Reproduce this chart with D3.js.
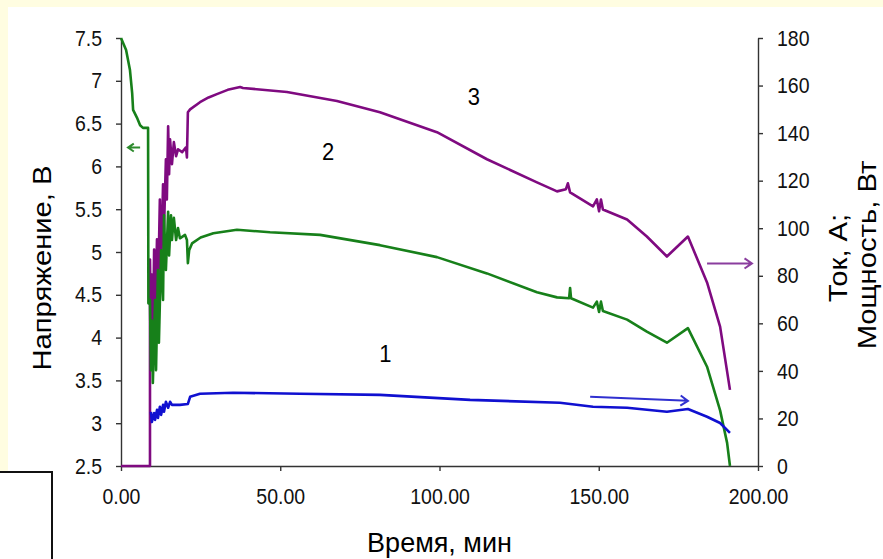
<!DOCTYPE html>
<html>
<head>
<meta charset="utf-8">
<title>Напряжение, ток, мощность</title>
<script src="https://d3js.org/d3.v7.min.js"></script>
<style>
  body { margin: 0; background: #fffde1; }
  svg { display: block; font-family: Arial, 'Liberation Sans', sans-serif; }
  .axis path, .axis line { stroke: #333; stroke-width: 1.4; }
  .axis text { font-size: 19.5px; fill: #111; }
</style>
</head>
<body>
<script>
// curve 2: voltage, V (left axis) — [time, value]
const voltage = [
  [0, 7.5], [0.9, 7.42], [1.6, 7.36], [2.8, 7.13], [3.5, 6.86], [3.8, 6.66], [5.0, 6.57],
  [6.0, 6.48], [6.9, 6.45], [8.5, 6.45], [8.6, 4.4], [9.1, 4.44], [9.4, 3.62], [9.7, 4.2],
  [10.0, 3.47], [10.7, 4.44], [11.0, 3.62], [11.6, 4.79], [11.9, 3.94], [12.6, 5.02],
  [13.2, 4.44], [13.5, 5.43], [14.1, 4.79], [14.8, 5.47], [15.1, 4.96], [15.7, 5.43],
  [16.0, 5.14], [16.6, 5.4], [17.3, 5.14], [17.9, 5.28], [18.5, 5.16], [20.1, 5.2],
  [20.7, 5.14], [21.0, 4.87], [21.4, 5.02], [22.3, 5.1], [25.0, 5.17], [29.0, 5.22],
  [36.4, 5.26], [46.8, 5.23], [62.5, 5.2], [81.3, 5.08], [99.2, 4.94], [114.9, 4.75],
  [130.6, 4.53], [136.9, 4.47], [140.7, 4.46], [141.0, 4.58], [141.3, 4.46], [148.2, 4.35],
  [149.4, 4.42], [150.1, 4.3], [150.7, 4.42], [151.3, 4.31], [158.9, 4.21], [165.1, 4.07],
  [171.4, 3.94], [178.0, 4.11], [184.0, 3.66], [188.1, 3.15], [190.3, 2.77], [191.2, 2.5]
]

// curve 3: power, W (right axis)
const power = [
  [0, 0], [9.1, 0], [9.1, 86.8], [9.4, 57.3], [9.7, 80.5], [10.0, 51], [10.4, 91],
  [10.7, 57.3], [11.3, 95.3], [11.6, 70], [12.2, 112.1], [12.6, 82.6], [13.2, 118.5],
  [13.5, 99.5], [14.1, 129], [14.4, 112.1], [14.8, 142.9], [15.1, 122.7], [15.4, 137.4],
  [16.0, 126.9], [16.6, 136.2], [17.3, 130.3], [17.9, 133.2], [19.2, 132], [20.4, 134],
  [20.7, 129.8], [21.0, 148.8], [21.7, 150], [24.8, 153], [27.5, 155], [30.1, 156.4],
  [33.5, 158.2], [37.4, 159.4], [38.3, 159], [52.1, 157.3], [67.8, 153.5], [81.3, 148.8],
  [99.2, 140.4], [114.9, 129], [130.6, 119.3], [136.9, 115.5], [139.7, 116.4],
  [140.3, 118.9], [141.0, 115.1], [148.2, 109.2], [149.4, 112.1], [150.1, 107.1],
  [150.7, 112.1], [151.3, 107.9], [158.9, 103.7], [165.1, 96.5], [171.4, 88.1],
  [178.0, 96.5], [184.0, 77.2], [188.1, 58.6], [191.2, 32]
]

// curve 1: current, A (right axis)
const current = [
  [9.4, 22.8], [9.7, 18.5], [10.4, 22.3], [10.7, 19.4], [11.3, 23.6], [11.6, 20.2],
  [12.2, 24.9], [12.6, 21.5], [13.2, 25.7], [13.5, 22.8], [14.1, 27], [14.8, 24.5],
  [15.4, 27], [16.0, 25.7], [18.5, 25.7], [21.0, 26.1], [21.7, 29.1], [24.8, 30.4],
  [35.2, 30.8], [56.2, 30.4], [81.3, 29.9], [109.6, 27.8], [137.8, 26.6], [148.2, 24.9],
  [158.9, 24.5], [171.4, 22.8], [178.0, 24], [184.0, 20.7], [188.1, 18.1], [191.2, 13.9]
]

const xTicks = [0, 50, 100, 150, 200]
const leftTicks = [2.5, 3, 3.5, 4, 4.5, 5, 5.5, 6, 6.5, 7, 7.5]
const rightTicks = [0, 20, 40, 60, 80, 100, 120, 140, 160, 180]

// curve numbers and the arrows showing which axis each curve uses
const curveNotes = [
  { text: '3', t: 110.8, v: 155.5, axis: 'right' },
  { text: '2', t: 65.0, v: 6.18, axis: 'left' },
  { text: '1', t: 83.0, v: 47.6, axis: 'right' }
]
const arrows = [
  { from: [6.0, 6.22], to: [2.2, 6.22], axis: 'left', color: '#2e8b2e', head: 7 },
  { from: [184.0, 85.2], to: [198.1, 85.2], axis: 'right', color: '#8a3d9e', head: 9 },
  { from: [147.3, 29.1], to: [178.0, 27.4], axis: 'right', color: '#3030d0', head: 9 }
]

const W = 883, H = 559
const margin = { top: 38, right: 125, bottom: 93, left: 121 }
const stretch = 1.15   // the picture's lettering is a bit taller than plain Arial

const svg = d3.select('body').append('svg')
  .attr('width', W).attr('height', H)

svg.append('rect').attr('width', W).attr('height', H).attr('fill', '#fffde1')
svg.append('rect').attr('x', 8).attr('y', 7).attr('width', W - 8).attr('height', H - 7)
  .attr('fill', '#ffffff')

const x = d3.scaleLinear().domain([0, 200]).range([margin.left, W - margin.right])
const yL = d3.scaleLinear().domain([2.5, 7.5]).range([H - margin.bottom, margin.top])
const yR = d3.scaleLinear().domain([0, 180]).range([H - margin.bottom, margin.top])
const yOf = a => a === 'left' ? yL : yR

// axes
const gx = svg.append('g').attr('class', 'axis')
  .attr('transform', `translate(0, ${H - margin.bottom})`)
  .call(d3.axisBottom(x).tickValues(xTicks).tickFormat(d3.format('.2f'))
    .tickSize(5).tickSizeOuter(0).tickPadding(14))
gx.selectAll('text')
  .attr('y', 22 / stretch)
  .attr('transform', `scale(1, ${stretch})`)

svg.append('g').attr('class', 'axis')
  .attr('transform', `translate(${margin.left}, 0)`)
  .call(d3.axisLeft(yL).tickValues(leftTicks).tickFormat(d => String(d))
    .tickSize(5).tickSizeOuter(0).tickPadding(14))
  .selectAll('text').attr('transform', `scale(1, ${stretch})`)

svg.append('g').attr('class', 'axis')
  .attr('transform', `translate(${W - margin.right}, 0)`)
  .call(d3.axisRight(yR).tickValues(rightTicks).tickFormat(d => String(d))
    .tickSize(5).tickSizeOuter(0).tickPadding(14))
  .selectAll('text').attr('transform', `scale(1, ${stretch})`)

// curves
const lineL = d3.line().x(d => x(d[0])).y(d => yL(d[1]))
const lineR = d3.line().x(d => x(d[0])).y(d => yR(d[1]))

const drawCurve = (data, gen, color) => {
  svg.append('path').datum(data)
    .attr('d', gen)
    .attr('fill', 'none')
    .attr('stroke', color)
    .attr('stroke-width', 2.6)
    .attr('stroke-linejoin', 'round')
}
drawCurve(power, lineR, '#7f0a80')
drawCurve(voltage, lineL, '#17801a')
drawCurve(current, lineR, '#1010d0')

// arrows
arrows.forEach(a => {
  const y = yOf(a.axis)
  const x1 = x(a.from[0]), y1 = y(a.from[1])
  const x2 = x(a.to[0]), y2 = y(a.to[1])
  const ang = Math.atan2(y2 - y1, x2 - x1)
  const h1 = [x2 - a.head * Math.cos(ang - 0.6), y2 - a.head * Math.sin(ang - 0.6)]
  const h2 = [x2 - a.head * Math.cos(ang + 0.6), y2 - a.head * Math.sin(ang + 0.6)]
  svg.append('path')
    .attr('d', `M${x1},${y1}L${x2},${y2}M${h1[0]},${h1[1]}L${x2},${y2}L${h2[0]},${h2[1]}`)
    .attr('fill', 'none').attr('stroke', a.color).attr('stroke-width', 2)
})

// curve numbers
svg.selectAll('.note').data(curveNotes).enter()
  .append('text')
    .attr('class', 'note')
    .attr('transform', d => `translate(${x(d.t)}, ${yOf(d.axis)(d.v)}) scale(1, 1.1)`)
    .attr('text-anchor', 'middle')
    .attr('dy', '0.36em')
    .style('font-size', '22px')
    .text(d => d.text)

// axis titles
svg.append('text')
  .attr('transform', `translate(${(x(0) + x(200)) / 2}, 552)`)
  .attr('text-anchor', 'middle')
  .style('font-size', '27px')
  .text('Время, мин')

const vTitle = (label, tx, ty) => svg.append('text')
  .attr('transform', `translate(${tx}, ${ty}) rotate(-90) scale(1.17, 1)`)
  .attr('text-anchor', 'middle')
  .style('font-size', '25px')
  .text(label)

vTitle('Напряжение, В', 51, 268)
vTitle('Ток, А;', 847, 258)
vTitle('Мощность, Вт', 876, 255)

// the framed box cut off in the lower left corner
svg.append('rect')
  .attr('x', -3).attr('y', 472).attr('width', 55).attr('height', 100)
  .attr('fill', '#ffffff').attr('stroke', '#111').attr('stroke-width', 2)
</script>
</body>
</html>
